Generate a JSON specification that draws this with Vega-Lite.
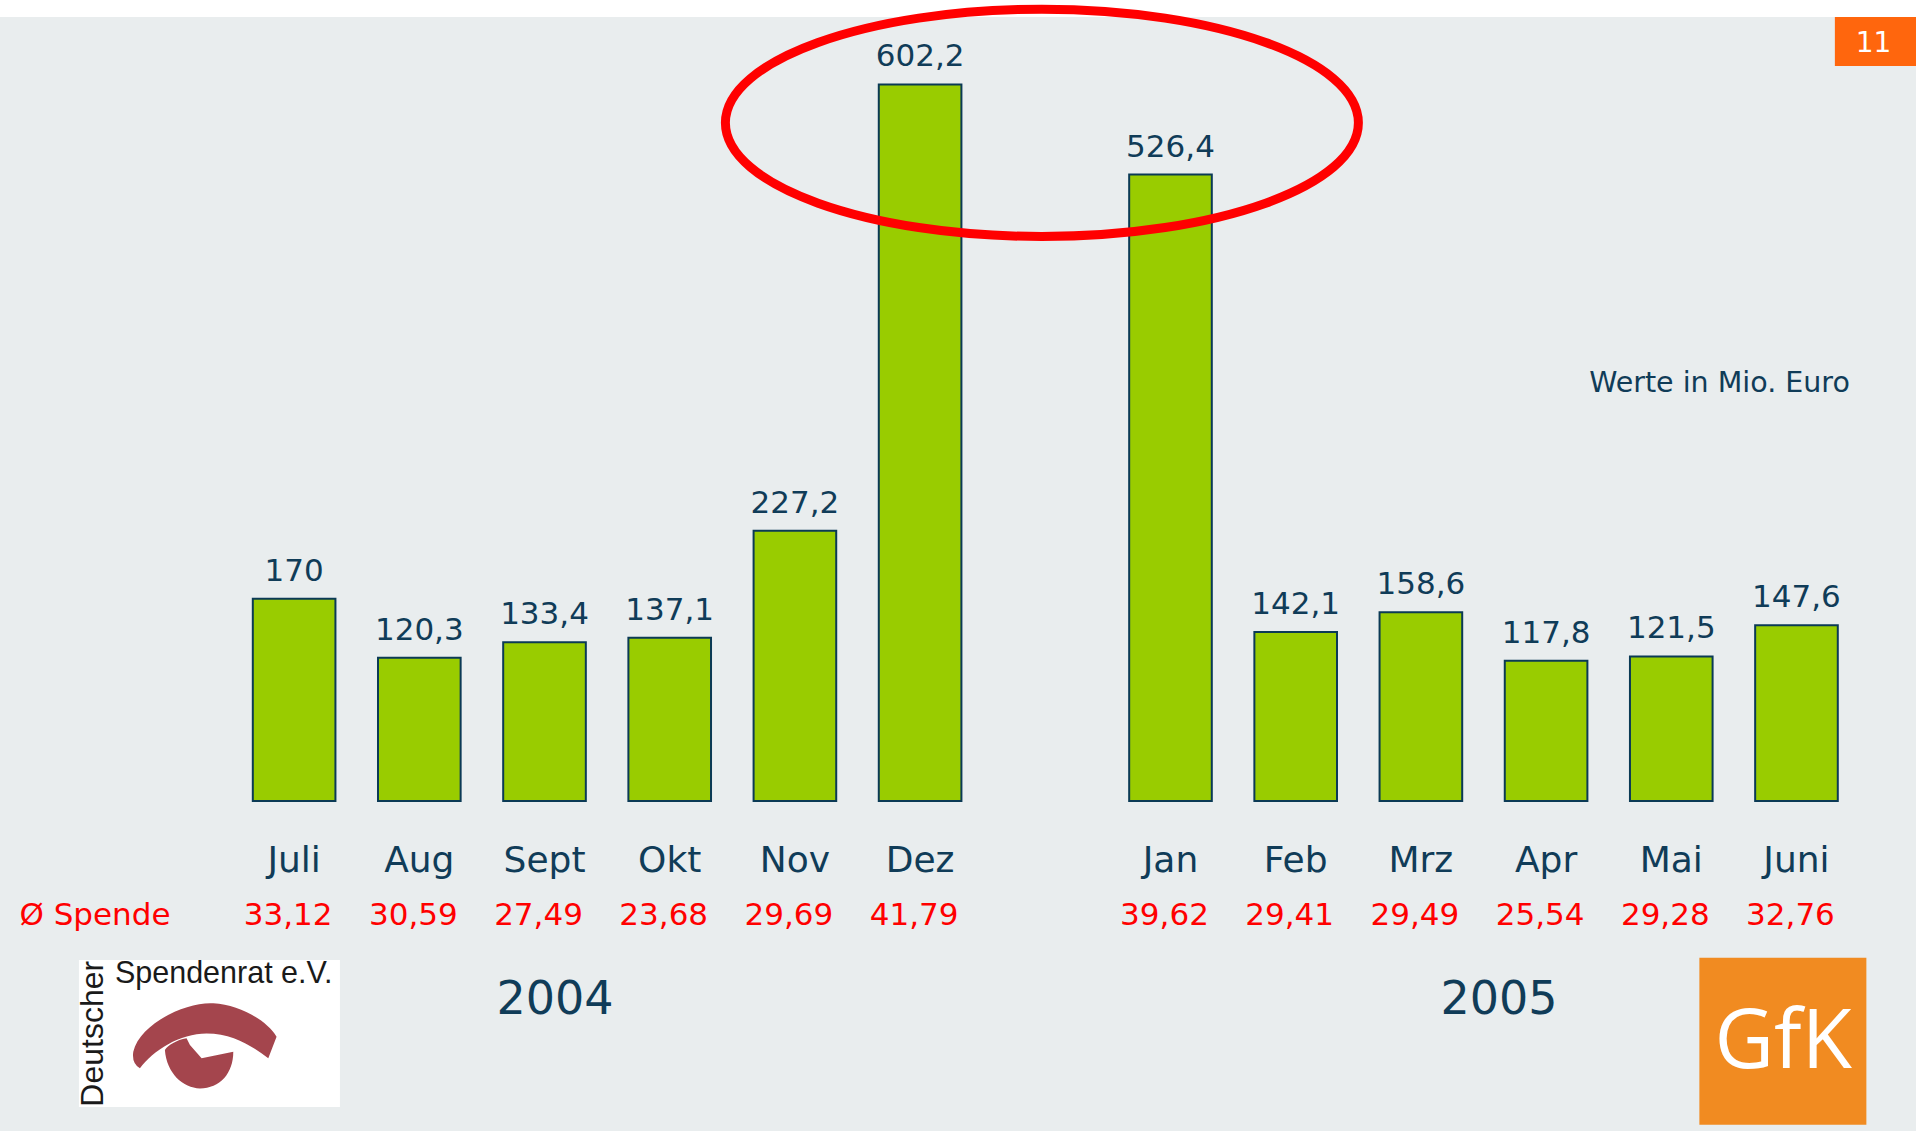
{
  "$schema": "https://vega.github.io/schema/vega-lite/v6.json",
  "width": 1916,
  "height": 1114,
  "autosize": {"type": "none"},
  "padding": {"top": 17, "left": 0, "right": 0, "bottom": 0},
  "background": "#FFFFFF",
  "config": {"view": {"fill": "#E9EDEE", "stroke": null}, "font": "DejaVu Sans"},
  "datasets": {
    "spenden": [
      {"month": "Juli", "value": 170, "label": "170", "spende": "33,12"},
      {"month": "Aug", "value": 120.3, "label": "120,3", "spende": "30,59"},
      {"month": "Sept", "value": 133.4, "label": "133,4", "spende": "27,49"},
      {"month": "Okt", "value": 137.1, "label": "137,1", "spende": "23,68"},
      {"month": "Nov", "value": 227.2, "label": "227,2", "spende": "29,69"},
      {"month": "Dez", "value": 602.2, "label": "602,2", "spende": "41,79"},
      {"month": "Jan", "value": 526.4, "label": "526,4", "spende": "39,62"},
      {"month": "Feb", "value": 142.1, "label": "142,1", "spende": "29,41"},
      {"month": "Mrz", "value": 158.6, "label": "158,6", "spende": "29,49"},
      {"month": "Apr", "value": 117.8, "label": "117,8", "spende": "25,54"},
      {"month": "Mai", "value": 121.5, "label": "121,5", "spende": "29,28"},
      {"month": "Juni", "value": 147.6, "label": "147,6", "spende": "32,76"}
    ]
  },
  "layer": [
    {
      "data": {"name": "spenden"},
      "mark": {"type": "bar", "fill": "#99CC00", "stroke": "#0B3A55", "strokeWidth": 2},
      "encoding": {
        "x": {"field": "month", "type": "nominal",
              "scale": {"domain": ["  ","Juli","Aug","Sept","Okt","Nov","Dez"," ","Jan","Feb","Mrz","Apr","Mai","Juni"], "paddingInner": 0.34, "paddingOuter": 0.822, "align": 0.62},
              "axis": {"orient": "top", "domain": true, "domainColor": "#F37021", "domainWidth": 2, "labels": false, "ticks": false, "grid": false, "title": null}},
        "y": {"field": "value", "type": "quantitative", "scale": {"domain": [-277.31, 658.82], "zero": false, "nice": false}, "axis": null},
        "y2": {"datum": 0}
      }
    },
    {
      "data": {"name": "spenden"},
      "mark": {"type": "text", "fontSize": 31, "color": "#103C58", "baseline": "alphabetic", "align": "center", "yOffset": -18},
      "encoding": {
        "x": {"field": "month", "type": "nominal", "axis": null},
        "y": {"field": "value", "type": "quantitative", "axis": null},
        "text": {"field": "label"}
      }
    },
    {
      "data": {"name": "spenden"},
      "mark": {"type": "text", "fontSize": 36, "color": "#103C58", "baseline": "alphabetic", "align": "center"},
      "encoding": {
        "x": {"field": "month", "type": "nominal", "axis": null},
        "y": {"datum": -59.41, "type": "quantitative", "axis": null},
        "text": {"field": "month"}
      }
    },
    {
      "data": {"name": "spenden"},
      "mark": {"type": "text", "fontSize": 31, "color": "#FF0000", "baseline": "alphabetic", "align": "center", "xOffset": -6},
      "encoding": {
        "x": {"field": "month", "type": "nominal", "axis": null},
        "y": {"datum": -104.2, "type": "quantitative", "axis": null},
        "text": {"field": "spende"}
      }
    },
    {
      "data": {"values": [{"label": "Ø Spende"}]},
      "mark": {"type": "text", "fontSize": 31, "color": "#FF0000", "baseline": "alphabetic", "align": "left", "xOffset": -274.7},
      "encoding": {
        "x": {"datum": "Juli", "type": "nominal", "axis": null},
        "y": {"datum": -104.2, "type": "quantitative", "axis": null},
        "text": {"field": "label"}
      }
    },
    {
      "data": {"values": [{"label": "Werte in Mio. Euro"}]},
      "mark": {"type": "text", "fontSize": 28.5, "color": "#103C58", "baseline": "alphabetic", "align": "right", "xOffset": 53.4},
      "encoding": {
        "x": {"datum": "Juni", "type": "nominal", "axis": null},
        "y": {"datum": 343.95, "type": "quantitative", "axis": null},
        "text": {"field": "label"}
      }
    },
    {
      "data": {"values": [{"label": "2004"}]},
      "mark": {"type": "text", "fontSize": 46, "color": "#103C58", "baseline": "alphabetic", "align": "center", "xOffset": 10.5},
      "encoding": {
        "x": {"datum": "Sept", "type": "nominal", "axis": null},
        "y": {"datum": -179.0, "type": "quantitative", "axis": null},
        "text": {"field": "label"}
      }
    },
    {
      "data": {"values": [{"label": "2005"}]},
      "mark": {"type": "text", "fontSize": 46, "color": "#103C58", "baseline": "alphabetic", "align": "center", "xOffset": -47},
      "encoding": {
        "x": {"datum": "Apr", "type": "nominal", "axis": null},
        "y": {"datum": -179.0, "type": "quantitative", "axis": null},
        "text": {"field": "label"}
      }
    },
    {
      "data": {"values": [{"label": "11"}]},
      "mark": {"type": "point", "shape": "M-1,-0.59H1V0.59H-1Z", "size": 6889, "filled": true, "fill": "#FF660D", "opacity": 1, "strokeWidth": 0, "xOffset": 79.9},
      "encoding": {
        "x": {"datum": "Juni", "type": "nominal", "axis": null},
        "y": {"datum": 638.2, "type": "quantitative", "axis": null}
      }
    },
    {
      "data": {"values": [{"label": "11"}]},
      "mark": {"type": "text", "fontSize": 28, "color": "#FFFFFF", "baseline": "alphabetic", "align": "center", "xOffset": 77},
      "encoding": {
        "x": {"datum": "Juni", "type": "nominal", "axis": null},
        "y": {"datum": 629.66, "type": "quantitative", "axis": null},
        "text": {"field": "label"}
      }
    },
    {
      "data": {"values": [{"label": "Deutscher Spendenrat e.V."}]},
      "mark": {"type": "point", "shape": "M-1,-0.563H1V0.563H-1Z", "size": 68121, "filled": true, "fill": "#FFFFFF", "opacity": 1, "strokeWidth": 0, "xOffset": -84.7},
      "encoding": {
        "x": {"datum": "Juli", "type": "nominal", "axis": null},
        "y": {"datum": -195.4, "type": "quantitative", "axis": null}
      }
    },
    {
      "data": {"values": [{"label": "Deutscher Spendenrat e.V."}]},
      "mark": {"type": "point", "shape": "M-0.995,0.086C-0.903,-0.308,-0.255,-0.609,0.116,-0.586C0.486,-0.563,0.856,-0.354,0.995,-0.123L0.88,0.178C0.671,0.016,0.394,-0.169,0.023,-0.169C-0.347,-0.169,-0.718,0.063,-0.903,0.317Q-1.019,0.248,-0.995,0.086ZM-0.556,0.063C-0.509,-0.007,-0.394,-0.076,-0.255,-0.1L-0.208,-0.007L-0.046,0.178L0.394,0.086C0.394,0.387,0.208,0.595,-0.069,0.595C-0.301,0.595,-0.532,0.387,-0.556,0.063Z", "size": 20736, "filled": true, "fill": "#A4454D", "opacity": 1, "strokeWidth": 0, "xOffset": -89.2},
      "encoding": {
        "x": {"datum": "Juli", "type": "nominal", "axis": null},
        "y": {"datum": -205.5, "type": "quantitative", "axis": null}
      }
    },
    {
      "data": {"values": [{"label": "Spendenrat e.V."}]},
      "mark": {"type": "text", "font": "Liberation Sans", "fontSize": 30.5, "color": "#1A1A1A", "baseline": "alphabetic", "align": "left", "xOffset": -179.2},
      "encoding": {
        "x": {"datum": "Juli", "type": "nominal", "axis": null},
        "y": {"datum": -153.19, "type": "quantitative", "axis": null},
        "text": {"field": "label"}
      }
    },
    {
      "data": {"values": [{"label": "Deutscher"}]},
      "mark": {"type": "text", "font": "Liberation Sans", "fontSize": 32, "color": "#1A1A1A", "baseline": "alphabetic", "align": "left", "angle": 270, "xOffset": -190.9},
      "encoding": {
        "x": {"datum": "Juli", "type": "nominal", "axis": null},
        "y": {"datum": -256.89, "type": "quantitative", "axis": null},
        "text": {"field": "label"}
      }
    },
    {
      "data": {"values": [{"label": "GfK"}]},
      "mark": {"type": "point", "shape": "square", "size": 27889, "filled": true, "fill": "#F18B21", "opacity": 1, "strokeWidth": 0, "xOffset": -13.6},
      "encoding": {
        "x": {"datum": "Juni", "type": "nominal", "axis": null},
        "y": {"datum": -201.9, "type": "quantitative", "axis": null}
      }
    },
    {
      "data": {"values": [{"label": "GfK"}]},
      "mark": {"type": "text", "font": "Open Sans", "fontSize": 82, "color": "#FFFFFF", "baseline": "alphabetic", "align": "center", "xOffset": -13.3},
      "encoding": {
        "x": {"datum": "Juni", "type": "nominal", "axis": null},
        "y": {"datum": -224.62, "type": "quantitative", "axis": null},
        "text": {"field": "label"}
      }
    },
    {
      "data": {"values": [{"label": "Dez/Jan"}]},
      "mark": {"type": "point", "shape": "M-1,0A1,0.359,0,1,1,1,0A1,0.359,0,1,1,-1,0Z", "size": 400689, "filled": false, "stroke": "#FF0000", "strokeWidth": 9, "opacity": 1, "xOffset": -3.4},
      "encoding": {
        "x": {"datum": " ", "type": "nominal", "axis": null},
        "y": {"datum": 569.9, "type": "quantitative", "axis": null}
      }
    }
  ]
}
